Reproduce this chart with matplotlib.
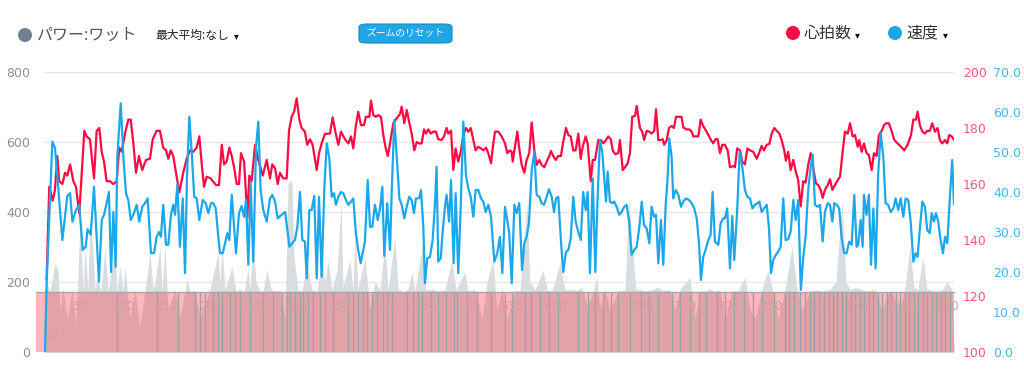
import matplotlib
matplotlib.use("Agg")
import matplotlib.pyplot as plt
from matplotlib.patches import Rectangle, FancyBboxPatch, Ellipse
import matplotlib.transforms as mtransforms
import numpy as np

# ---------------- data ----------------
hr_t = [16,32,53,67,81,93,112,128,142,159,179,195,215,246,260,280,305,321,337,352,366,382,402,423,443,459,474,494,514,529,545,561,579,599,622,646,663,687,707,727,744,758,773,788,805,825,849,870,890,910,931,947,962,976,992,1016,1049,1067,1084,1098,1114,1130,1145,1159,1175,1189,1201,1220,1240,1252,1266,1287,1307,1334,1358,1378,1392,1409,1425,1439,1459,1480,1494,1510,1526,1541,1557,1571,1591,1605,1622,1638,1663,1677,1693,1713,1744,1760,1779,1795,1811,1835,1856,1872,1886,1901,1916,1933,1951,1963,1984,1994,2008,2024,2038,2055,2069,2084,2096,2110,2130,2151,2171,2181,2197,2212,2227,2242,2258,2273,2287,2303,2317,2329,2343,2358,2374,2390,2404,2425,2439,2455,2465,2482,2496,2510,2526,2541,2557,2573,2587,2602,2618,2632,2648,2665,2679,2695,2709,2726,2736,2750,2770,2791,2811,2825,2841,2852,2858,2872,2886,2898,2913,2929,2943,2959,2974,2990,3004,3020,3035,3051,3065,3081,3091,3105,3120,3136,3152,3166,3183,3197,3212,3227,3242,3258,3273,3285,3303,3315,3334,3346,3360,3380,3395,3411,3427,3441,3456,3468,3482,3502,3512,3529,3543,3559,3573,3587,3604,3614,3624,3634,3648,3660,3675,3691,3705,3721,3732,3746,3760,3773,3782,3797,3811,3827,3841,3854,3874,3888,3898,3919,3935,3949,3959,3980,3990,4004,4020,4037,4051,4067,4081,4095,4108,4122,4136,4152,4169,4183,4203,4213,4227,4244,4258,4274,4289,4305,4325,4346,4360,4376,4390,4407,4423,4437,4453,4468,4484,4498,4514,4524,4538,4553,4569,4584,4599,4614,4630,4644,4660,4675,4691,4707,4721,4736,4748,4762,4779,4793,4807,4823,4840,4854,4868,4884,4901,4915,4931,4945,4962,4971,4986,5000,5016,5030,5047,5061,5077,5091,5108,5122,5136,5152,5168,5185,5205,5226,5246,5266,5287,5301,5317,5327,5341,5356,5372,5386,5402,5416,5433,5449,5463,5477,5494,5508,5520,5535,5546]
hr_bpm = [126,159,154,158,170,161,160,164,163,167,161,159,149.5,179,177,176,162,179,180,171.5,168,161,161,160,161,173,171.5,178,183,183,174.5,164,170,165,168.6,169,176,179,179,173,172,169,172,170,164,157,164,169,172,171.5,173,177,167,159,162.6,162,159.6,159.6,174,167,168,173,170,166,160,160,171,168,148,163,161,174,168.6,163,168.6,162,167,165.6,160,164,162,162,179,184,186,190.6,183,180,178.7,174,176,174,165,171,174.5,177.9,178,183.8,178,174,178.7,176,174.5,177,172.7,180.5,185.8,181,181,184,184,189.8,184.6,184,184.6,184,177.5,172.7,170,174.5,181.7,183.5,185,187.6,181.7,186.4,182,178,172,175,174.5,174.5,179.5,178,179.5,178,178.7,178.7,176,175.7,177,180,178,179,165,172.7,168,171.5,177.5,180,178.7,180,175.7,172,173.3,172.7,172,173,171,167.4,172.7,178.7,178.7,177,174.5,171,172,171.5,168,173.3,178.7,172.7,166.8,164,168.6,171,182,172,166.8,168.6,166.8,166,168,170,171.8,170,168.6,170,170,175,180,177.5,177,172,172,178,169,173.3,177,174.5,161,168.6,168.6,175.7,175.7,174.5,175.7,177,176,172,170.7,171,175.7,165,166,167.4,171,184,184.3,187.9,184,180,178.7,175.7,179,178.7,178,179,186.7,175.7,175.7,176,174,175.7,180,180.7,180,184,184,184,180.2,179.5,179.5,178.7,177,177,177,183,180.7,179,177.5,175.7,174.5,176,176,171,174,174,172,166,166.4,166,172.7,172,168,167,172.7,172,171.5,169,171,173.6,172,174,174.3,178,180,179,178,175.7,172,168.3,171.5,165,168.6,164.4,161.4,152,161,160.5,166.8,171,165.6,160.2,159.6,157.9,155,157.9,159.6,161.7,157.9,159.6,161.4,162.6,170.4,178.7,178,181.7,177,177.5,173.3,175.7,171.5,174.5,171,170.4,165,171,170,177.5,179,181,181.7,181.7,179,175.7,174.5,173.3,172,174,177.5,183,183,185.8,181,178.7,178,179,179,181.7,178.7,180,175.7,174.5,175.7,174.5,177.5,177,176]

spd_t = [6,16,51,67,87,112,128,142,159,173,195,215,236,254,266,285,305,321,335,352,366,382,396,409,423,437,447,468,484,500,514,529,545,565,581,599,616,632,652,671,687,701,713,727,744,758,774,788,799,813,829,846,860,872,886,901,916,931,947,968,986,1002,1018,1032,1047,1059,1073,1090,1104,1118,1130,1145,1159,1171,1189,1205,1220,1232,1246,1260,1276,1293,1307,1321,1337,1358,1378,1392,1409,1425,1449,1470,1484,1496,1514,1530,1545,1561,1575,1591,1602,1618,1632,1648,1663,1677,1693,1709,1724,1740,1754,1768,1780,1795,1811,1825,1841,1856,1872,1886,1902,1916,1931,1947,1957,1974,1988,2002,2018,2035,2049,2063,2075,2093,2110,2120,2136,2151,2167,2181,2197,2212,2227,2242,2256,2268,2287,2299,2313,2323,2337,2354,2370,2384,2394,2404,2419,2431,2445,2455,2470,2482,2498,2510,2526,2541,2557,2573,2587,2602,2618,2632,2648,2665,2679,2693,2709,2726,2746,2764,2780,2795,2811,2825,2837,2852,2868,2882,2898,2915,2929,2943,2957,2974,2990,3004,3020,3035,3049,3065,3079,3096,3110,3122,3136,3152,3166,3183,3197,3212,3227,3242,3258,3273,3288,3303,3315,3329,3346,3362,3374,3390,3404,3416,3427,3437,3451,3465,3477,3492,3508,3522,3538,3553,3569,3583,3599,3614,3628,3645,3659,3675,3691,3705,3720,3732,3746,3762,3776,3791,3803,3813,3827,3837,3852,3868,3884,3898,3915,3933,3949,3965,3980,3994,4006,4020,4037,4051,4065,4077,4091,4112,4126,4142,4152,4166,4183,4197,4209,4226,4242,4258,4274,4289,4305,4319,4335,4352,4362,4376,4390,4407,4421,4433,4447,4463,4477,4492,4508,4522,4538,4553,4569,4584,4599,4615,4630,4644,4660,4675,4687,4701,4718,4732,4748,4762,4779,4793,4807,4819,4834,4849,4864,4880,4894,4910,4925,4941,4955,4965,4980,4992,5000,5016,5030,5043,5057,5071,5087,5102,5118,5132,5148,5163,5179,5193,5209,5224,5240,5254,5270,5285,5301,5315,5327,5341,5356,5372,5386,5401,5413,5427,5439,5453,5467,5482,5494,5508,5524,5538,5549]
spd_kmh = [0,17,52.6,51,41,28,34,39,39.7,32.6,35.5,36.8,25.5,26.3,30.7,29.3,41.3,28.8,17.6,33,34.3,37.2,40,20,35,21.3,48.8,62.2,48.8,39.7,38,33,34.3,36.8,32.6,36.3,37.2,38.4,24.7,24.7,28.8,30,28.8,36.8,26.8,26.8,34.3,36.8,34.3,41.8,26.3,38.4,19.7,43.8,58.8,49.7,38.8,38.4,33,38,37.2,34.7,37.2,37.2,36,30.5,24.7,24.7,27.2,29.7,28,39.3,31.3,24.7,34.7,36.5,33.8,38,21.8,42.2,22.6,51.3,57.6,40.5,35.5,32.6,38.4,39.3,37.6,33.4,34.3,35,30.5,26.3,27.2,28,31.3,40,28,27.6,18.4,35.5,35.5,39,18.4,38.8,18.8,40.5,52.2,48.4,38.8,39.7,36.8,38.8,40,39.7,38,36.8,37.6,38.4,29.7,25.5,22.2,25.5,27.6,43,31.3,31.3,36.8,33,35.9,41.3,24,37.2,25.5,39.7,58,48.8,38.4,36.8,33.4,36.3,38.8,38,34.7,38.4,38.4,40.5,31.3,17.2,23.4,23.8,28,37.2,46.3,22.6,23.4,30,36.3,39.3,32.6,43,22.2,39.7,19.7,36.3,57.6,44.3,40.9,38.8,33.8,40.5,40.5,38.4,37.6,35,36.8,33.8,22.6,24.7,28.8,19.7,36.3,33,29.7,17.2,36.8,34.7,37.2,20.5,27.2,28.8,32.2,45.5,50,39.3,38.8,37.2,36.8,38.8,40.7,38.8,35,38.4,38.8,28,20,25,25.5,28.4,38.8,32.6,30,28,40,35.5,40,19.7,43.4,20,36.8,53,50,43.4,37.6,45.1,37.6,37.2,37.6,36.3,34.3,35,36.3,36.8,32.2,24.3,25.5,26.3,30.5,37.6,31.8,30.9,27.2,36.3,33.8,34.3,22.2,33,21.8,36.8,43.8,53.4,48.8,38.4,40.5,39.3,36.3,37.6,38.4,38,37.2,35.9,33.4,27.2,18,23.8,25.9,28,29.3,40,27.6,26.8,32.2,33.4,33.4,35.9,20.9,34,23,34.7,50,46.3,40.5,38.8,38.4,35.9,36.8,37.2,37.6,35,35.9,36.8,30.9,19.7,23,24.3,25.1,26.3,38.4,28,28.2,30.1,38,33,38,15.5,23.8,28.8,40.5,46.3,49.3,36.8,36.3,36.8,27.6,35,37.2,36.8,32.6,37.2,36.8,35.9,28.4,24.7,24.7,27.6,26.8,39.3,26.3,26.8,33,26.3,39.3,34.3,39.3,21.8,35.9,20.9,44.7,54.7,48.8,37.2,36.8,35,35.9,38.4,35.5,38.4,33.8,38.4,38,32.6,22.6,24.7,23.8,30.9,37.6,36.3,30.5,29.7,34.7,32.6,34.7,32.6,28,24.7,28.8,27.2,38.8,48,37]

pwr_t = [0,16,37,67,85,98,116,140,171,195,220,238,250,268,280,299,311,323,348,372,390,402,433,445,463,482,494,524,555,585,616,646,665,677,707,720,738,756,799,829,872,890,921,951,1012,1061,1073,1085,1104,1146,1171,1195,1220,1244,1256,1274,1293,1317,1335,1360,1384,1409,1439,1470,1488,1512,1524,1549,1573,1604,1634,1665,1695,1713,1732,1756,1787,1811,1823,1866,1884,1896,1915,1957,1988,2018,2049,2079,2098,2140,2159,2189,2220,2244,2262,2305,2329,2366,2402,2445,2488,2512,2567,2585,2628,2671,2701,2738,2762,2793,2823,2872,2902,2945,2963,2994,3043,3067,3098,3146,3177,3207,3250,3280,3317,3372,3390,3421,3451,3500,3543,3567,3585,3610,3634,3665,3707,3744,3774,3817,3848,3878,3939,3970,4000,4030,4061,4091,4122,4152,4195,4232,4274,4305,4335,4378,4415,4439,4476,4518,4561,4591,4622,4671,4701,4744,4793,4829,4866,4890,4915,4951,4988,5024,5067,5110,5159,5220,5250,5280,5305,5329,5360,5384,5415,5445,5476,5506,5537,5549]
pwr_w = [0,200,174,254,234,120,185,95,178,70,386,178,300,180,386,291,176,214,174,300,172,200,305,174,243,176,243,95,180,70,178,283,180,200,300,178,300,120,180,95,206,174,176,95,178,283,200,300,178,243,174,180,172,240,178,320,200,176,174,234,180,174,176,95,483,491,271,178,174,254,178,174,271,200,263,178,234,426,185,263,178,340,180,271,120,200,178,311,178,329,180,172,180,226,174,300,178,180,174,178,263,178,229,174,178,95,200,263,120,185,95,178,174,434,200,178,234,178,174,254,178,180,176,185,120,214,120,180,120,174,178,443,311,178,180,174,178,185,176,178,120,180,214,95,176,174,180,174,178,95,176,174,214,120,95,180,234,185,95,178,300,178,120,174,178,174,180,200,430,200,180,185,178,174,180,120,178,120,185,300,185,178,271,180,176,174,178,200,178,0]

# vertical marker lines inside the lower band (seconds)
band_marks_t = [445,689,817,921,951,982,1030,1061,1085,1134,1165,1195,1256,1335,1396,1451,1482,1500,1530,1561,1579,1610,1640,1683,1713,1762,1854,1884,1915,1945,1970,2000,2030,2067,2091,2122,2213,2250,2280,2305,2360,2402,2451,2500,2518,2579,2640,2726,2811,2854,2933,2970,3024,3079,3134,3256,3317,3360,3409,3457,3500,3573,3640,3689,3744,3829,3878,3939,3994,4037,4104,4152,4210,4268,4323,4378,4451,4518,4543,4573,4610,4640,4671,4695,4726,4756,4786,4811,4835,4866,4890,4921,4945,4976,5000,5030,5055,5085,5110,5140,5165,5195,5220,5250,5274,5305,5329,5360,5384,5415,5439,5470,5494,5524]

band_label_idx = [50,100,150,200,250,300,350,400,450,500,550,600,650,700,750,800,850,900,950,1000,1050]

x_ticks = [0,1000,2000,3000,4000,5000]
x_labels = ["0:00","16:40","33:20","50:00","1:06:40","1:23:20"]
pwr_ticks = [0,200,400,600,800]
hr_ticks = [100,120,140,160,180,200]
spd_ticks = [0,10,20,30,40,50,60,70]

# ---------------- style ----------------
RED = "#ff0a43"
BLUE = "#1ba8ea"
GRAY_FILL = "#d9dde0"
JP = ["Noto Sans CJK JP", "DejaVu Sans"]
plt.rcParams["font.family"] = ["DejaVu Sans"]

W, H = 1024, 379
fig = plt.figure(figsize=(W/100, H/100), dpi=100)
L, R, B, T = 44, 954, 352, 72
ax = fig.add_axes([L/W, 1-B/H, (R-L)/W, (B-T)/H])
ax_hr = ax.twinx()
ax_sp = ax.twinx()

XMAX = 5549
for a in (ax, ax_hr, ax_sp):
    a.set_xlim(0, XMAX)
    for s in a.spines.values():
        s.set_visible(False)
    a.patch.set_visible(False)
ax.set_ylim(0, 800)
ax_hr.set_ylim(100, 200)
ax_sp.set_ylim(0, 70)

# grid
for v in pwr_ticks:
    ax.axhline(v, color="#e6e6e6", lw=1.0, zorder=0)

# power area
ax.fill_between(pwr_t, pwr_w, 0, color=GRAY_FILL, lw=0, zorder=1)

# band (navigator-like) region
band_top = 171
bx0 = (36 - L) / (R - L)
trans = mtransforms.blended_transform_factory(ax.transAxes, ax.transData)
band = Rectangle((bx0, 0), 1 - bx0, band_top, transform=trans, facecolor="#ffb7bb",
                 edgecolor="none", zorder=2, clip_on=False)
ax.add_patch(band)
dark = ax.fill_between(pwr_t, pwr_w, 0, color="#e2a3a8", lw=0, zorder=2.1)
clip_rect = Rectangle((bx0, 0), 1 - bx0, band_top, transform=trans)
dark.set_clip_path(clip_rect)
ax.vlines(band_marks_t, 0, band_top, color="#9aa3aa", lw=1.0, zorder=2.2)
ax.plot([bx0, 1], [band_top, band_top], transform=trans, color="#a7a7a7", lw=1.0,
        zorder=2.3, clip_on=False)
# faint navigator labels
for i in band_label_idx:
    xpix = 37 + i * 0.864
    if xpix > R - 8:
        continue
    ax.text((xpix - L) / (R - L), 130, str(i), transform=trans, ha="center", va="center",
            fontsize=8.5, color="#d39ca1", zorder=2.25)
ax.text((51 - L) / (R - L), 46, "50", transform=trans, ha="center", va="center",
        fontsize=8.5, color="#d39ca1", zorder=2.25)

# series
ax_sp.plot(spd_t, spd_kmh, color=BLUE, lw=1.6, zorder=3, solid_joinstyle="round")
ax_hr.plot(hr_t, hr_bpm, color=RED, lw=1.6, zorder=4, solid_joinstyle="round")
ax_hr.set_zorder(ax.get_zorder() + 1)
ax_sp.set_zorder(ax.get_zorder() + 1)

# ticks
ax.set_xticks(x_ticks)
ax.set_xticklabels(x_labels)
ax.tick_params(axis="x", length=0, pad=6, labelsize=9, colors="#7d8388")
ax.set_yticks(pwr_ticks)
ax.tick_params(axis="y", length=0, pad=10, labelsize=9, colors="#8a9096")
ax_hr.set_yticks(hr_ticks)
ax_hr.tick_params(axis="y", length=0, pad=6.5, labelsize=9, colors="#ff5a74")
ax_hr.set_xticks([])
ax_sp.set_yticks(spd_ticks)
ax_sp.set_yticklabels([f"{v:.1f}" for v in spd_ticks])
ax_sp.tick_params(axis="y", length=0, pad=28, labelsize=9, colors="#4db3ea")
ax_sp.set_xticks([])

# ---------------- header ----------------
def fx(px): return px / W
def fy(py): return 1 - py / H

def dot(px, py, color):
    fig.patches.append(Ellipse((fx(px), fy(py)), 14/W, 14/H, transform=fig.transFigure,
                               facecolor=color, edgecolor="none"))

dot(25, 35, "#6f8091")
fig.text(fx(37), fy(35), "パワー:ワット", family=JP, fontsize=11.5, color="#555555",
         va="center", ha="left")
fig.text(fx(155), fy(35), "最大平均:なし", family=JP, fontsize=8.5, color="#222222",
         va="center", ha="left")
fig.text(fx(236), fy(36), "▾", family=JP, fontsize=7, color="#111111", va="center", ha="center")

btn = FancyBboxPatch((fx(359), fy(43)), (452-359)/W, 19/H,
                     boxstyle="round,pad=0,rounding_size=0.008",
                     transform=fig.transFigure, facecolor="#1ea6e6",
                     edgecolor="#178ac4", lw=0.8)
fig.patches.append(btn)
fig.text(fx(405), fy(33.5), "ズームのリセット", family=JP, fontsize=7, color="white",
         va="center", ha="center")

dot(793, 33, "#ff0a43")
fig.text(fx(804), fy(33), "心拍数", family=JP, fontsize=11.5, color="#333333",
         va="center", ha="left")
fig.text(fx(857), fy(35), "▾", family=JP, fontsize=7, color="#111111", va="center", ha="center")
dot(895, 33, "#1aa7ea")
fig.text(fx(906), fy(33), "速度", family=JP, fontsize=11.5, color="#333333",
         va="center", ha="left")
fig.text(fx(945), fy(35), "▾", family=JP, fontsize=7, color="#111111", va="center", ha="center")

fig.savefig("out.png", dpi=100, facecolor="white")
